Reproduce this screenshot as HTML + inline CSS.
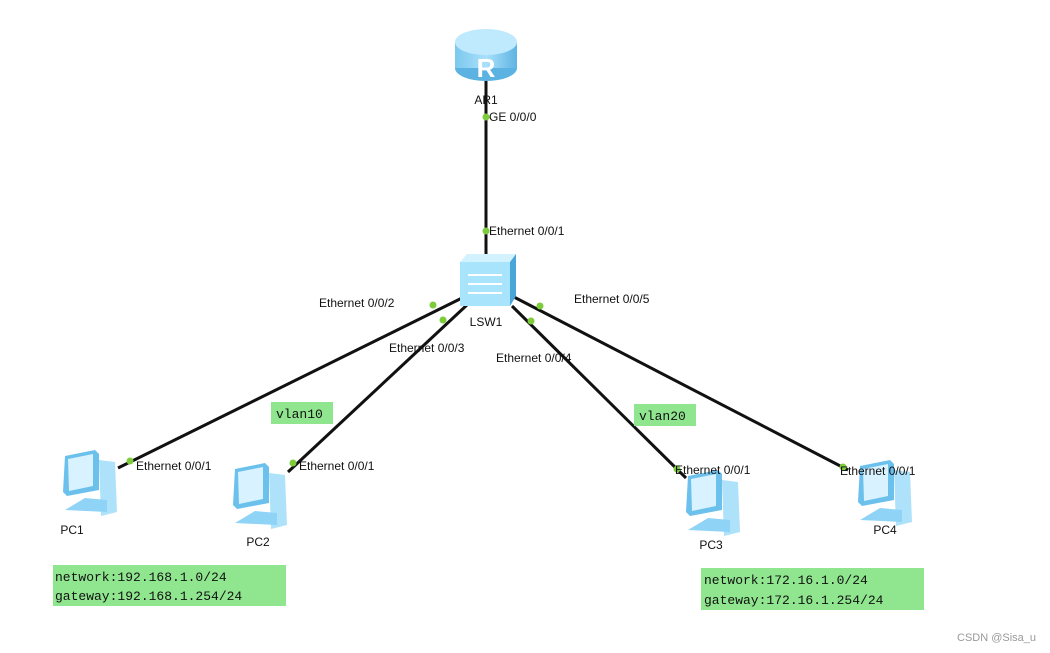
<!DOCTYPE html>
<html><head><style>
html,body{margin:0;padding:0;background:#fff;}
svg{display:block;}
text{font-family:"Liberation Sans",sans-serif;font-size:12px;fill:#111;}
.m{font-family:"Liberation Mono",monospace;font-size:13px;fill:#111;}
</style></head><body>
<svg width="1050" height="653" viewBox="0 0 1050 653">
<defs>
<linearGradient id="rb" x1="0" x2="1"><stop offset="0" stop-color="#7cc8ee"/><stop offset="0.5" stop-color="#a9e0fb"/><stop offset="1" stop-color="#5fb4e3"/></linearGradient>
<g id="pc">
 <path d="M10 6 L40 0 L44 4 L44 40 L12 46 L8 42 Z" fill="#6cc0ec"/>
 <path d="M13 9 L38 4 L38 36 L14 41 Z" fill="#d8f2ff"/>
 <path d="M44 10 L60 12 L62 62 L46 66 Z" fill="#aee2fb"/>
 <path d="M30 48 L52 50 L52 62 L10 60 Z" fill="#8fd3f6"/>
</g>
</defs>
<g stroke="#111" stroke-width="3" fill="none">
<line x1="486" y1="76" x2="486" y2="258"/>
<line x1="462" y1="298" x2="118" y2="468"/>
<line x1="468" y1="304" x2="288" y2="472"/>
<line x1="512" y1="306" x2="686" y2="478"/>
<line x1="512" y1="296" x2="848" y2="470"/>
</g>
<!-- router -->
<ellipse cx="486" cy="68" rx="31" ry="13" fill="#5cb2e0"/>
<rect x="455" y="42" width="62" height="26" fill="url(#rb)"/>
<ellipse cx="486" cy="42" rx="31" ry="13" fill="#bfe9fd"/>
<text x="486" y="77" text-anchor="middle" style="font-size:26px;fill:#fff;font-weight:bold">R</text>
<!-- switch -->
<path d="M460 262 L467 254 L516 254 L510 262 Z" fill="#d2f2ff"/>
<path d="M510 262 L516 254 L516 296 L510 306 Z" fill="#4aa5d8"/>
<rect x="460" y="262" width="50" height="44" fill="#a8e4fb"/>
<g stroke="#fff" stroke-width="2"><line x1="468" y1="275" x2="502" y2="275"/><line x1="468" y1="284" x2="502" y2="284"/><line x1="468" y1="293" x2="502" y2="293"/></g>
<use href="#pc" x="55" y="450"/>
<use href="#pc" x="225" y="463"/>
<use href="#pc" x="678" y="470"/>
<use href="#pc" x="850" y="460"/>
<g fill="#7ccc3c">
<circle cx="486" cy="117" r="3.5"/><circle cx="486" cy="231" r="3.5"/>
<circle cx="433" cy="305" r="3.5"/><circle cx="443" cy="320" r="3.5"/>
<circle cx="531" cy="321" r="3.5"/><circle cx="540" cy="306" r="3.5"/>
<circle cx="130" cy="461" r="3.5"/><circle cx="293" cy="463" r="3.5"/>
<circle cx="677" cy="469" r="3.5"/><circle cx="843" cy="467" r="3.5"/>
</g>
<text x="486" y="104" text-anchor="middle">AR1</text>
<text x="489" y="121">GE 0/0/0</text>
<text x="489" y="235">Ethernet 0/0/1</text>
<text x="486" y="326" text-anchor="middle">LSW1</text>
<text x="319" y="307">Ethernet 0/0/2</text>
<text x="389" y="352">Ethernet 0/0/3</text>
<text x="496" y="362">Ethernet 0/0/4</text>
<text x="574" y="303">Ethernet 0/0/5</text>
<text x="136" y="470">Ethernet 0/0/1</text>
<text x="299" y="470">Ethernet 0/0/1</text>
<text x="675" y="474">Ethernet 0/0/1</text>
<text x="840" y="475">Ethernet 0/0/1</text>
<text x="72" y="534" text-anchor="middle">PC1</text>
<text x="258" y="546" text-anchor="middle">PC2</text>
<text x="711" y="549" text-anchor="middle">PC3</text>
<text x="885" y="534" text-anchor="middle">PC4</text>
<g fill="#8fe68f">
<rect x="271" y="402" width="62" height="22"/>
<rect x="634" y="404" width="62" height="22"/>
<rect x="53" y="565" width="233" height="41"/>
<rect x="701" y="568" width="223" height="42"/>
</g>
<text class="m" x="276" y="418">vlan10</text>
<text class="m" x="639" y="420">vlan20</text>
<text class="m" x="55" y="581">network:192.168.1.0/24</text>
<text class="m" x="55" y="600">gateway:192.168.1.254/24</text>
<text class="m" x="704" y="584">network:172.16.1.0/24</text>
<text class="m" x="704" y="604">gateway:172.16.1.254/24</text>
<text x="957" y="641" style="font-size:11px;fill:#999">CSDN @Sisa_u</text>
</svg>
</body></html>
